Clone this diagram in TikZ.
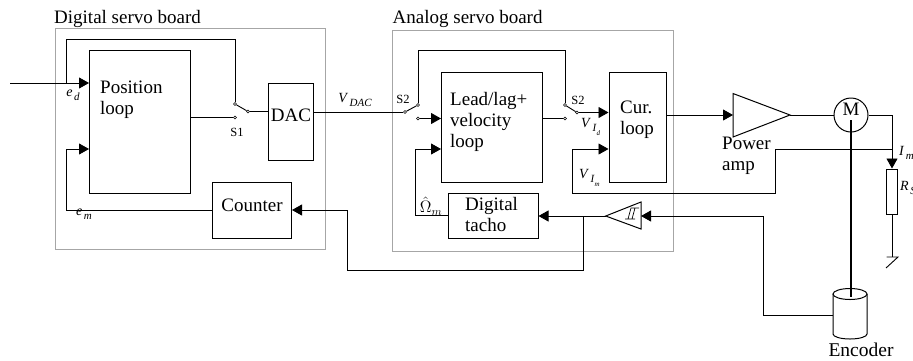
\documentclass[tikz,border=0pt]{standalone}
\usepackage{amsmath}
\usepackage{xcolor}
\usepackage{fontspec}
\setmainfont{Liberation Serif}
\usetikzlibrary{arrows.meta,shapes.geometric}
\newcommand{\txtbig}{\fontsize{19}{21}\selectfont}
\newcommand{\txtsub}[2]{\textit{#1}\kern1.5pt\raisebox{-4pt}{\fontsize{11}{12}\selectfont\textit{#2}}}
\newcommand{\txtsubsub}[3]{\textit{#1}\kern1.5pt\raisebox{-4pt}{\fontsize{11}{12}\selectfont\textit{#2}}\raisebox{-8pt}{\fontsize{7}{8}\selectfont\textit{#3}}}
\tikzset{
  board/.style={draw=black!35,line width=0.9pt,fill=none},
  blk/.style={draw,line width=1pt,inner sep=0pt,font=\txtbig},
  lab/.style={font=\txtbig,inner sep=0pt,align=left},
  sig/.style={font=\fontsize{14}{16}\selectfont,inner sep=0pt},
  contact/.style={circle,draw,fill=white,inner sep=0pt,minimum size=3pt},
  wire/.style={draw,line width=0.9pt},
  arr/.style={wire,-{Triangle[length=10pt,width=11pt]}}
}
\begin{document}
\begin{tikzpicture}[x=1pt,y=-1pt]
\useasboundingbox (0,0) rectangle (913,360);
% boards
\draw[board] (55,28) rectangle (325,249);
\draw[board] (392.5,30.5) rectangle (673,251);
\node[lab,anchor=west] (digtitle) at (54,19) {Digital servo board};
\node[lab,anchor=west] (anatitle) at (392.5,19) {Analog servo board};

% blocks
\node[blk,minimum width=101pt,minimum height=143pt] (pos) at (140,121.5) {};
\node[blk,minimum width=45pt,minimum height=77pt] (dac) at (291,121.5) {};
\node[blk,minimum width=79pt,minimum height=56pt] (cnt) at (252,210) {};
\node[blk,minimum width=100.5pt,minimum height=110pt] (lead) at (491.75,127) {};
\node[blk,minimum width=57pt,minimum height=110pt] (cur) at (637.5,127) {};
\node[blk,minimum width=90pt,minimum height=45pt] (tacho) at (493,215.5) {};
\node[lab,anchor=west] at (100,100) {Position\\loop};
\node[lab] at (291,115) {DAC};
\node[lab] at (252,205) {Counter};
\node[lab,anchor=west] at (450,121.5) {Lead/lag+\\velocity\\loop};
\node[lab,anchor=west] at (620,119.5) {Cur.\\loop};
\node[lab,anchor=west] at (465,214.5) {Digital\\tacho};

% amp, motor, encoder
\draw[blk] (733,93.5) -- (790,115) -- (733,137) -- cycle;
\coordinate (ampin) at (733,115);
\coordinate (ampout) at (790,115);
\node[lab,anchor=west] at (722,156) {Power\\amp};
\node[blk,circle,minimum size=34pt] (mot) at (851,115) {};
\node[lab] at (851,109.5) {M};
\draw[blk] (605.7,216) -- (641,202) -- (641,229) -- cycle;
\coordinate (schin) at (641,216);
\coordinate (schout) at (605.7,216);
\draw[line width=0.7pt] (625,219) -- (635,219) (628,219) -- (631,208) -- (635,208) (632,219) -- (635,208) -- (639,208);
\draw[blk] (833,294) -- (833,334) arc[start angle=180,end angle=360,x radius=17pt,y radius=5pt] -- (867,294);
\draw[blk] (850,294) ellipse[x radius=17pt,y radius=5.5pt];
\node[lab] (enc) at (861,349.5) {\fontsize{19.5}{21}\selectfont Encoder};
\draw[line width=1.1pt] (851,120) -- (851,297);

% S1 and S2 switches
\node[contact] (s1a) at (235,104) {};
\node[contact] (s1b) at (235,117.5) {};
\node[contact] (s1p) at (248,111.5) {};
\node[contact] (s2a) at (418,105) {};
\node[contact] (s2b) at (418,118.5) {};
\node[contact] (s2p) at (405,112) {};
\node[contact] (s3a) at (565,105) {};
\node[contact] (s3b) at (565,118.5) {};
\node[contact] (s3p) at (577,112.5) {};
\draw[wire] (s1a) -- (s1p);
\draw[wire] (s2p) -- (s2a);
\draw[wire] (s3a) -- (s3p);
\node[font=\fontsize{12.5}{14}\selectfont,inner sep=0pt] at (237,132) {S1};
\node[font=\fontsize{12.5}{14}\selectfont,inner sep=0pt] at (403,99) {S2};
\node[font=\fontsize{12.5}{14}\selectfont,inner sep=0pt] at (578,100) {S2};

% digital board wiring
\coordinate (in) at (10,83);
\coordinate (inj) at (66,83);
\draw[arr] (in) -- (pos.west|-in);
\draw[wire] (inj) |- (235,39) -- (s1a);
\draw[wire] (pos.east|-s1b) -- (s1b);
\draw[wire] (s1p) -- (dac.west|-s1p);
\draw[arr] (cnt.west) -| (66,149) -- (pos.west|-0,149);
\node[sig] at (73,95) {\txtsub{e}{d}};
\node[sig] at (84,214) {\txtsub{e}{m}};

% analog board wiring
\draw[wire] (dac.east|-s2p) -- (s2p);
\node[sig] at (355,100) {\txtsub{V}{DAC}};
\draw[arr] (s2b) -- (lead.west|-s2b);
\draw[wire] (s2a) |- (s3a|-0,50) -- (s3a);
\draw[wire] (lead.east|-s3b) -- (s3b);
\draw[arr] (s3p) -- (cur.west|-s3p);
\node[sig,anchor=west] at (581,127) {\txtsubsub{V}{I}{d}};
\draw[arr] (tacho.west) -| (415,149) -- (lead.west|-0,149);
\node[sig,scale=1.15] at (431,206) {$\hat\Omega_m$};
\draw[arr] (schout) -- (tacho.east|-schout);
\coordinate (tj) at (583,216);
\draw[arr] (tj) |- (347,270.5) |- (cnt.east);

% output side
\draw[arr] (cur.east|-ampin) -- (ampin);
\draw[wire] (ampout) -- (mot.west);
\coordinate (imj) at (892,149.5);
\node[blk,minimum width=11.5pt,minimum height=45pt] (rs) at (892,191.5) {};
\draw[arr] (mot.east) -| (rs.north);
\draw[arr] (imj) -| (775,193.5) -| (572,149) -- (cur.west|-0,149);
\node[sig,anchor=west] at (579,178) {\txtsubsub{V}{I}{m}};
\node[sig,anchor=west] at (899,153) {\txtsub{I}{m}};
\node[sig,anchor=west] at (900,188) {\txtsub{R}{S}};
\coordinate (gnd) at (892,257);
\draw[wire] (rs.south) -- (gnd);
\draw[wire] (886.7,257) -- (898,257) -- (886,268);
\draw[arr] (833,315) -| (763,216) -- (schin);
\end{tikzpicture}
\end{document}
